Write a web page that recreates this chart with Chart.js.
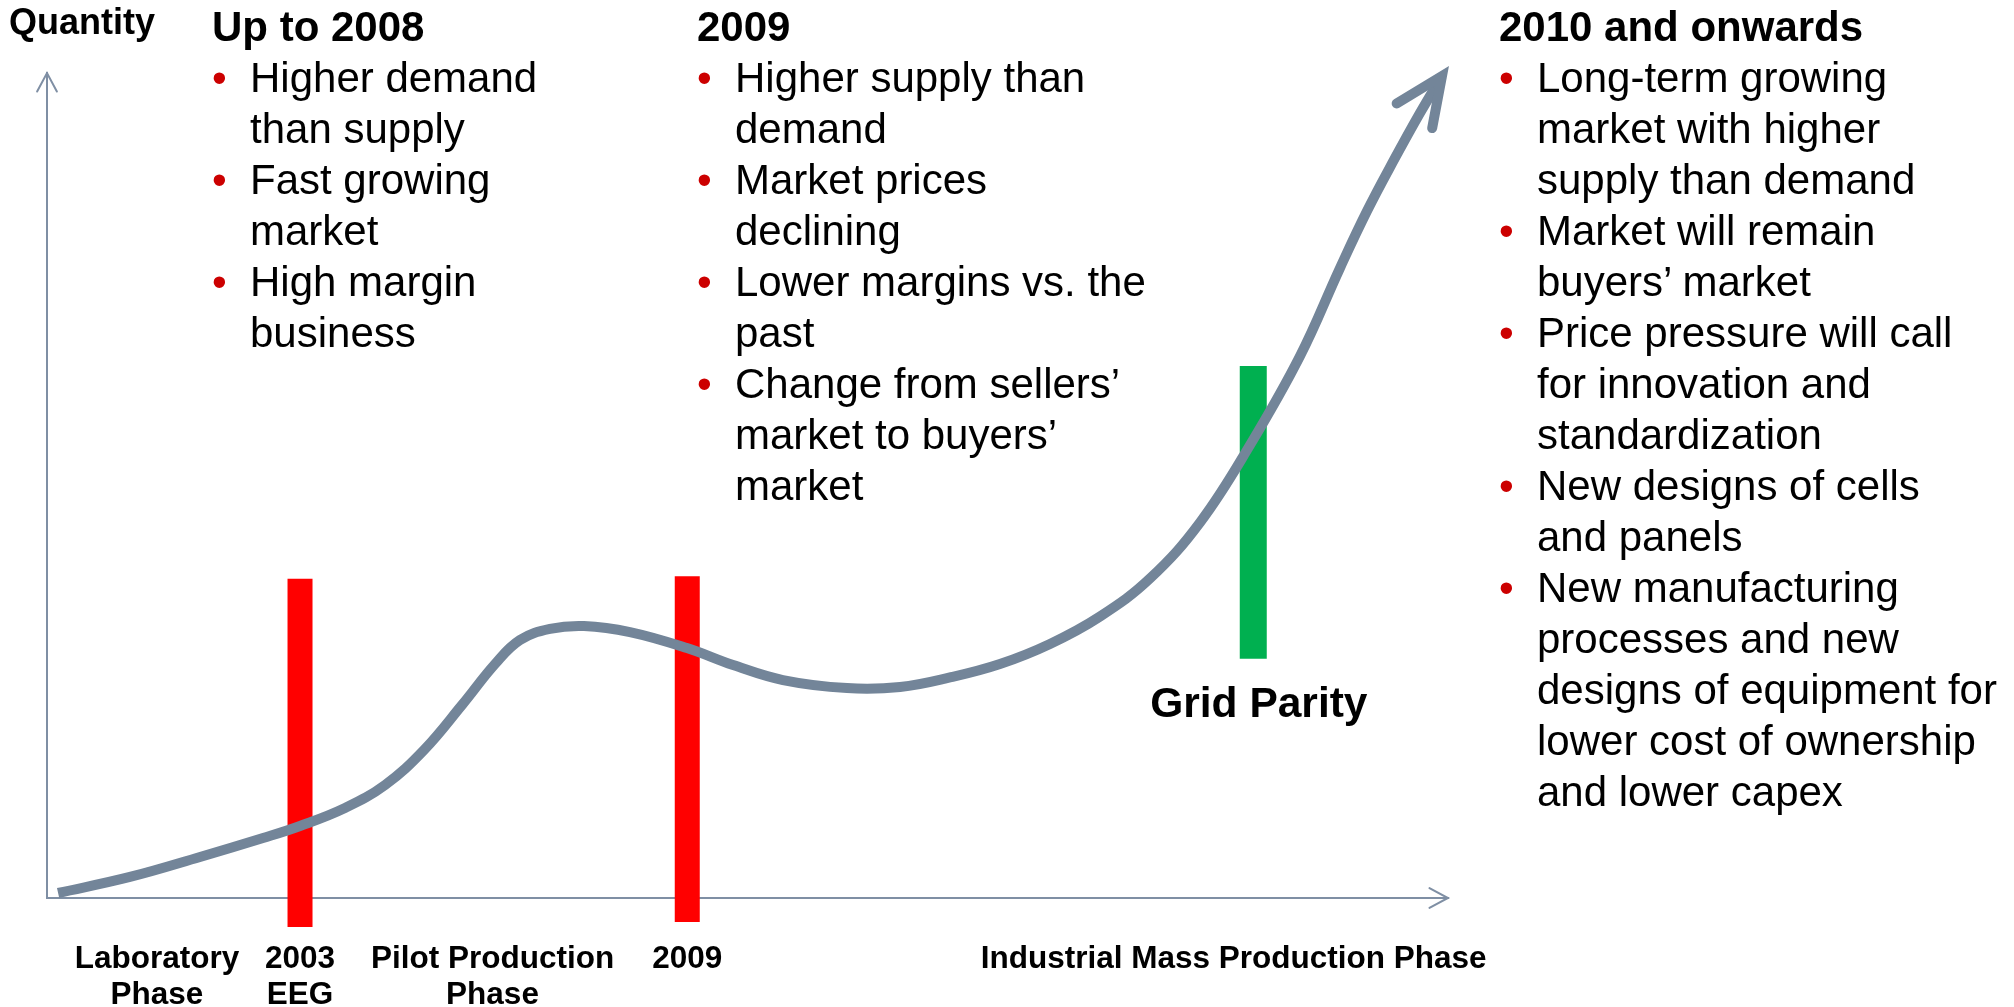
<!DOCTYPE html>
<html>
<head>
<meta charset="utf-8">
<script src="https://cdn.jsdelivr.net/npm/chart.js@4.4.1/dist/chart.umd.min.js"></script>
<style>
  html, body { margin: 0; padding: 0; background: #fff; overflow: hidden; }
  #wrap { position: relative; width: 2014px; height: 1007px; font-family: Arial, "Liberation Sans", sans-serif; color: #000; }
  #chart { position: absolute; left: 0; top: 0; }
  .col { position: absolute; top: 1px; font-size: 42px; line-height: 51px; white-space: nowrap; }
  .col .head { font-weight: bold; }
  .col .item { position: relative; padding-left: 38px; }
  .col .item::before { content: "\2022"; position: absolute; left: 0; top: 0; color: #cc0000; }
  .lbl { position: absolute; top: 939px; font-weight: bold; font-size: 31.5px; line-height: 36px; text-align: center; white-space: nowrap; transform: translateX(-50%); }
  #qty { position: absolute; left: 9px; top: 4px; font-weight: bold; font-size: 36px; line-height: 1; }
  #grid { position: absolute; top: 682px; font-weight: bold; font-size: 42.5px; line-height: 1; white-space: nowrap; transform: translateX(-50%); }
</style>
</head>
<body>
<div id="wrap">
  <canvas id="chart" width="2014" height="1007"></canvas>
  <div id="qty">Quantity</div>
  <div id="grid">Grid Parity</div>
</div>
<script>
// market development curve (x = time/progress, y = quantity, both 0..100)
const progress = [0.79, 5.92, 10.92, 15.42, 18.06, 21.27, 24.13, 26.91, 29.62, 31.98, 33.76, 35.9, 38.33, 41.61, 45.68, 48.97, 52.53, 57.1, 60.89, 64.45, 68.02, 71.59, 75.16, 78.73, 82.3, 85.87, 89.44, 92.29, 94.22, 96.22, 98.0, 99.57];
const quantity = [0.61, 2.55, 4.97, 7.27, 8.73, 10.91, 13.7, 17.94, 23.39, 28.36, 31.27, 32.61, 32.97, 32.24, 30.3, 28.24, 26.42, 25.45, 25.58, 26.73, 28.36, 30.79, 34.12, 38.73, 45.52, 54.91, 65.7, 76.36, 83.27, 89.7, 95.15, 99.64];

// milestone markers: 2003 EEG, 2009, grid parity
const markerX = [18.06, 45.7, 86.1];
const markerTop = [38.7, 39.0, 64.5];
const markerBottom = [-3.5, -2.9, 29.0];

// phase labels under the time axis
const phaseLabels = [['Laboratory', 'Phase'], ['2003', 'EEG'], ['Pilot Production', 'Phase'], ['2009'], ['Industrial Mass Production Phase']];
const phaseX = [7.85, 18.06, 31.8, 45.7, 84.7];
const gridParityX = 86.5;

const columns = [
  { left: 212, head: 'Up to 2008', items: [
    ['Higher demand', 'than supply'],
    ['Fast growing', 'market'],
    ['High margin', 'business']
  ]},
  { left: 697, head: '2009', items: [
    ['Higher supply than', 'demand'],
    ['Market prices', 'declining'],
    ['Lower margins vs. the', 'past'],
    ['Change from sellers’', 'market to buyers’', 'market']
  ]},
  { left: 1499, head: '2010 and onwards', items: [
    ['Long-term growing', 'market with higher', 'supply than demand'],
    ['Market will remain', 'buyers’ market'],
    ['Price pressure will call', 'for innovation and', 'standardization'],
    ['New designs of cells', 'and panels'],
    ['New manufacturing', 'processes and new', 'designs of equipment for', 'lower cost of ownership', 'and lower capex']
  ]}
];

const curveColor = '#738599';
const axisColor = '#7f8fa4';
const markerColors = ['#ff0000', '#ff0000', '#00b050'];
const markerWidths = [25, 25, 27];

const wrap = document.getElementById('wrap');
columns.forEach(c => {
  const d = document.createElement('div');
  d.className = 'col';
  d.style.left = c.left + 'px';
  let html = '<div class="head">' + c.head + '</div>';
  c.items.forEach(lines => { html += '<div class="item">' + lines.join('<br>') + '</div>'; });
  d.innerHTML = html;
  wrap.appendChild(d);
});

function arrowHead(ctx, x, y, angle, len, spread) {
  const back = angle + Math.PI;
  ctx.beginPath();
  ctx.moveTo(x + Math.cos(back + spread) * len, y + Math.sin(back + spread) * len);
  ctx.lineTo(x, y);
  ctx.lineTo(x + Math.cos(back - spread) * len, y + Math.sin(back - spread) * len);
  ctx.stroke();
}

const arrowsPlugin = {
  id: 'arrows',
  afterDatasetsDraw(chart) {
    const ctx = chart.ctx;
    const a = chart.chartArea;
    ctx.save();
    ctx.strokeStyle = axisColor;
    ctx.lineWidth = 2;
    ctx.lineCap = 'round';
    arrowHead(ctx, a.right, a.bottom, 0, 21, 0.49);
    arrowHead(ctx, a.left, a.top, -Math.PI / 2, 21, 0.49);

    const pts = chart.getDatasetMeta(0).data;
    const last = pts[pts.length - 1], prev = pts[pts.length - 2];
    const ang = Math.atan2(last.y - prev.y, last.x - prev.x);
    ctx.strokeStyle = curveColor;
    ctx.lineWidth = 10;
    ctx.lineJoin = 'miter';
    arrowHead(ctx, last.x, last.y, ang + 0.07, 53, 0.42);
    ctx.restore();
  }
};

const datasets = [{
  type: 'line',
  data: progress.map((x, i) => ({ x: x, y: quantity[i] })),
  borderColor: curveColor,
  borderWidth: 10,
  borderCapStyle: 'butt',
  borderJoinStyle: 'round',
  pointRadius: 0,
  tension: 0.4,
  clip: false
}];
markerX.forEach((x, i) => {
  datasets.push({
    type: 'line',
    data: [{ x: x, y: markerBottom[i] }, { x: x, y: markerTop[i] }],
    borderColor: markerColors[i],
    borderWidth: markerWidths[i],
    borderCapStyle: 'butt',
    pointRadius: 0,
    clip: false
  });
});

const hiddenAxis = {
  type: 'linear', min: 0, max: 100,
  grid: { display: false, drawTicks: false },
  ticks: { display: false },
  border: { display: true, color: axisColor, width: 2 }
};

const chart = new Chart(document.getElementById('chart'), {
  type: 'line',
  data: { datasets: datasets },
  plugins: [arrowsPlugin],
  options: {
    responsive: false,
    animation: false,
    events: [],
    layout: { padding: { left: 47, right: 566, top: 73, bottom: 109 } },
    plugins: { legend: { display: false }, tooltip: { enabled: false } },
    scales: {
      x: Object.assign({ position: 'bottom' }, hiddenAxis),
      y: Object.assign({ position: 'left' }, hiddenAxis)
    }
  }
});

phaseLabels.forEach((lines, i) => {
  const d = document.createElement('div');
  d.className = 'lbl';
  d.style.left = chart.scales.x.getPixelForValue(phaseX[i]) + 'px';
  d.innerHTML = lines.join('<br>');
  wrap.appendChild(d);
});
document.getElementById('grid').style.left = chart.scales.x.getPixelForValue(gridParityX) + 'px';
</script>
</body>
</html>
